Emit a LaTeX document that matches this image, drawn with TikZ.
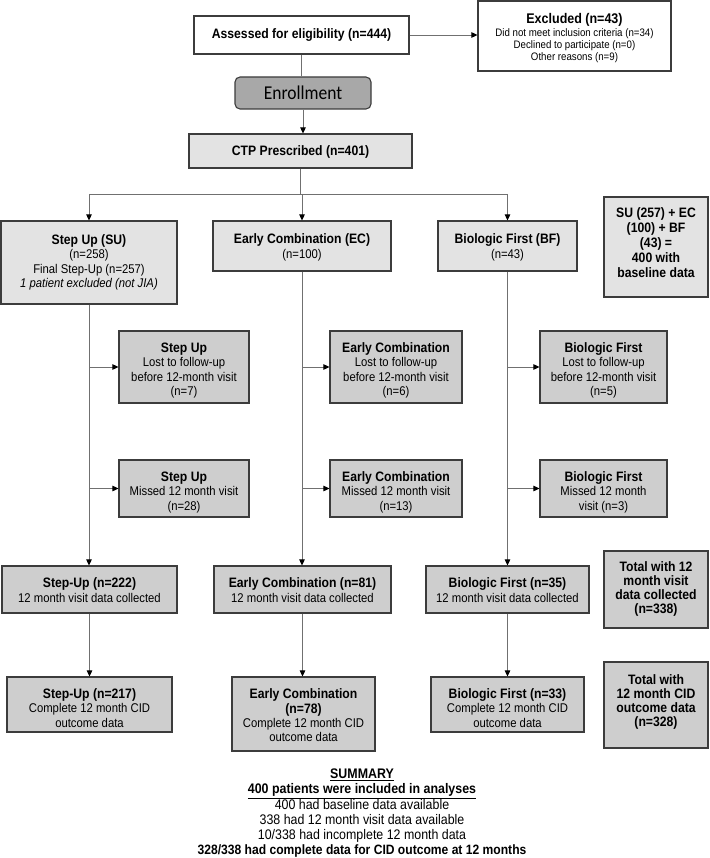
\documentclass[tikz,border=0pt]{standalone}
\usepackage{graphicx}
\usepackage{fontspec}
\setmainfont{Liberation Sans}
\newfontfamily\calibfont{Carlito}
\usetikzlibrary{arrows.meta}
\definecolor{bordc}{HTML}{3C3C3C}
\definecolor{lightf}{HTML}{E3E3E3}
\definecolor{darkf}{HTML}{CECECE}
\definecolor{enrf}{HTML}{A8A8A8}
\definecolor{connc}{HTML}{707070}
\newcommand\hdr{\bfseries\fontsize{12.2}{12.8}\selectfont}
\newcommand\smtxt{\fontsize{9.7}{10.7}\selectfont}
% text is set slightly taller than wide, as in the reference;
% optional argument moves the text block down inside its box
\newcommand\vs[2][2.5pt]{\raisebox{0pt}[\dimexpr\height+#1\relax][\dimexpr\depth-#1\relax]{%
  \scalebox{1}[1.12]{\begin{tabular}{@{}c@{}}#2\end{tabular}}}}
\tikzset{
  basebox/.style={draw=bordc, line width=1.1pt, inner sep=0pt, align=center,
    font=\fontsize{11.3}{12.8}\selectfont},
  whitebox/.style={basebox, fill=white},
  lightbox/.style={basebox, fill=lightf},
  darkbox/.style={basebox, fill=darkf},
  totbox/.style={basebox, fill=darkf, font=\bfseries\fontsize{12.2}{12.2}\selectfont},
  conn/.style={draw=connc, line width=0.8pt},
  arr/.style={conn, -{Triangle[length=6pt, width=5.5pt, color=black]}},
}
\begin{document}
\begin{tikzpicture}[x=1pt, y=-1pt]
\useasboundingbox (0,0) rectangle (709,858);

% top
\node[whitebox, minimum width=215pt, minimum height=38pt] (assess) at (301.5,35)
  {\vs[1pt]{\hdr Assessed for eligibility (n=444)}};
\node[whitebox, minimum width=193pt, minimum height=70pt, font=\smtxt] (excl) at (574.5,36)
  {\vs[2.5pt]{{\bfseries\fontsize{12.5}{13}\selectfont Excluded (n=43)}\\[1pt]
   Did not meet inclusion criteria (n=34)\\
   Declined to participate (n=0)\\
   Other reasons (n=9)}};
\node[basebox, fill=enrf, rounded corners=5pt, minimum width=136pt, minimum height=32pt,
  font=\calibfont\fontsize{17.5}{18}\selectfont] (enroll) at (303,93) {\vs[2pt]{Enrollment}};
\node[lightbox, minimum width=223pt, minimum height=34pt] (ctp) at (300.5,151)
  {\vs[2pt]{\hdr CTP Prescribed (n=401)}};

% first row
\node[lightbox, minimum width=176pt, minimum height=83pt] (su) at (89,262.5)
  {\vs[0.5pt]{{\hdr Step Up (SU)}\\(n=258)\\Final Step-Up (n=257)\\\textit{1 patient excluded (not JIA)}}};
\node[lightbox, minimum width=178pt, minimum height=50pt] (ec) at (302,246)
  {\vs[2pt]{{\hdr Early Combination (EC)}\\(n=100)}};
\node[lightbox, minimum width=139pt, minimum height=50pt] (bf) at (507.5,246)
  {\vs[2pt]{{\hdr Biologic First (BF)}\\(n=43)}};
\node[basebox, fill=lightf, font=\bfseries\fontsize{12.2}{13.2}\selectfont,
  minimum width=104pt, minimum height=100pt] (tot1) at (656,247)
  {\vs[-2.5pt]{SU (257) + EC\\(100) + BF\\(43) =\\400 with\\baseline data}};

% lost to follow-up
\node[darkbox, minimum width=130pt, minimum height=72pt] (sulost) at (184,367)
  {\vs[4pt]{{\hdr Step Up}\\Lost to follow-up\\before 12-month visit\\(n=7)}};
\node[darkbox, minimum width=132pt, minimum height=72pt] (eclost) at (396,367)
  {\vs[4pt]{{\hdr Early Combination}\\Lost to follow-up\\before 12-month visit\\(n=6)}};
\node[darkbox, minimum width=127pt, minimum height=72pt] (bflost) at (603.5,367)
  {\vs[4pt]{{\hdr Biologic First}\\Lost to follow-up\\before 12-month visit\\(n=5)}};

% missed
\node[darkbox, minimum width=130pt, minimum height=57pt] (sumiss) at (184,488.5)
  {\vs[4.5pt]{{\hdr Step Up}\\Missed 12 month visit\\(n=28)}};
\node[darkbox, minimum width=132pt, minimum height=57pt] (ecmiss) at (396,488.5)
  {\vs[4.5pt]{{\hdr Early Combination}\\Missed 12 month visit\\(n=13)}};
\node[darkbox, minimum width=127pt, minimum height=57pt] (bfmiss) at (603.5,488.5)
  {\vs[4.5pt]{{\hdr Biologic First}\\Missed 12 month\\visit (n=3)}};

% 12 month
\node[darkbox, minimum width=175pt, minimum height=47pt] (su12) at (89.5,589.5)
  {\vs[2.5pt]{{\hdr Step-Up (n=222)}\\12 month visit data collected}};
\node[darkbox, minimum width=177pt, minimum height=47pt] (ec12) at (302.5,589.5)
  {\vs[2.5pt]{{\hdr Early Combination (n=81)}\\12 month visit data collected}};
\node[darkbox, minimum width=163pt, minimum height=47pt] (bf12) at (507.5,589.5)
  {\vs[2.5pt]{{\hdr Biologic First (n=35)}\\12 month visit data collected}};
\node[totbox, minimum width=104pt, minimum height=77pt] (tot12) at (656,589.5)
  {\vs[0pt]{Total with 12\\month visit\\data collected\\(n=338)}};

% CID
\node[darkbox, minimum width=165pt, minimum height=55pt] (sucid) at (89.5,704.5)
  {\vs[5.5pt]{{\hdr Step-Up (n=217)}\\Complete 12 month CID\\outcome data}};
\node[darkbox, minimum width=143pt, minimum height=74pt] (eccid) at (303.5,714)
  {\vs[3.5pt]{{\hdr Early Combination}\\{\hdr (n=78)}\\Complete 12 month CID\\outcome data}};
\node[darkbox, minimum width=153pt, minimum height=55pt] (bfcid) at (507.5,704.5)
  {\vs[5.5pt]{{\hdr Biologic First (n=33)}\\Complete 12 month CID\\outcome data}};
\node[totbox, minimum width=104pt, minimum height=86pt] (totcid) at (656,705)
  {\vs[-2.5pt]{Total with\\12 month CID\\outcome data\\(n=328)}};

% summary
\node[inner sep=0pt, font=\fontsize{12.4}{13.5}\selectfont] (summ) at (362,812.5)
  {\vs[1pt]{\textbf{\underline{SUMMARY}}\\
   \textbf{\underline{400 patients were included in analyses}}\\
   400 had baseline data available\\
   338 had 12 month visit data available\\
   10/338 had incomplete 12 month data\\
   {\bfseries\fontsize{12.1}{13.5}\selectfont 328/338 had complete data for CID outcome at 12 months}}};

% connectors
\draw[arr] (assess.east) -- (assess.east -| excl.west);
\draw[conn] (assess.south) -- (assess.south |- enroll.north);
\draw[arr] (enroll.south) -- (enroll.south |- ctp.north);
\coordinate (hl) at (89,194);
\coordinate (hr) at (507.5,194);
\draw[conn] (ctp.south) -- (ctp.south |- hl);
\draw[conn] (hl) -- (hr);
\draw[arr] (hl) -- (su.north);
\draw[arr] (ec.north |- hl) -- (ec.north);
\draw[arr] (hr) -- (bf.north);

\draw[arr] (su.south) -- (su.south |- su12.north);
\draw[arr] (ec.south) -- (ec.south |- ec12.north);
\draw[arr] (bf.south) -- (bf.south |- bf12.north);

\draw[arr] (su.south |- sulost.west) -- (sulost.west);
\draw[arr] (ec.south |- eclost.west) -- (eclost.west);
\draw[arr] (bf.south |- bflost.west) -- (bflost.west);
\draw[arr] (su.south |- sumiss.west) -- (sumiss.west);
\draw[arr] (ec.south |- ecmiss.west) -- (ecmiss.west);
\draw[arr] (bf.south |- bfmiss.west) -- (bfmiss.west);

\draw[arr] (su12.south) -- (su12.south |- sucid.north);
\draw[arr] (ec12.south) -- (ec12.south |- eccid.north);
\draw[arr] (bf12.south) -- (bf12.south |- bfcid.north);
\end{tikzpicture}
\end{document}
